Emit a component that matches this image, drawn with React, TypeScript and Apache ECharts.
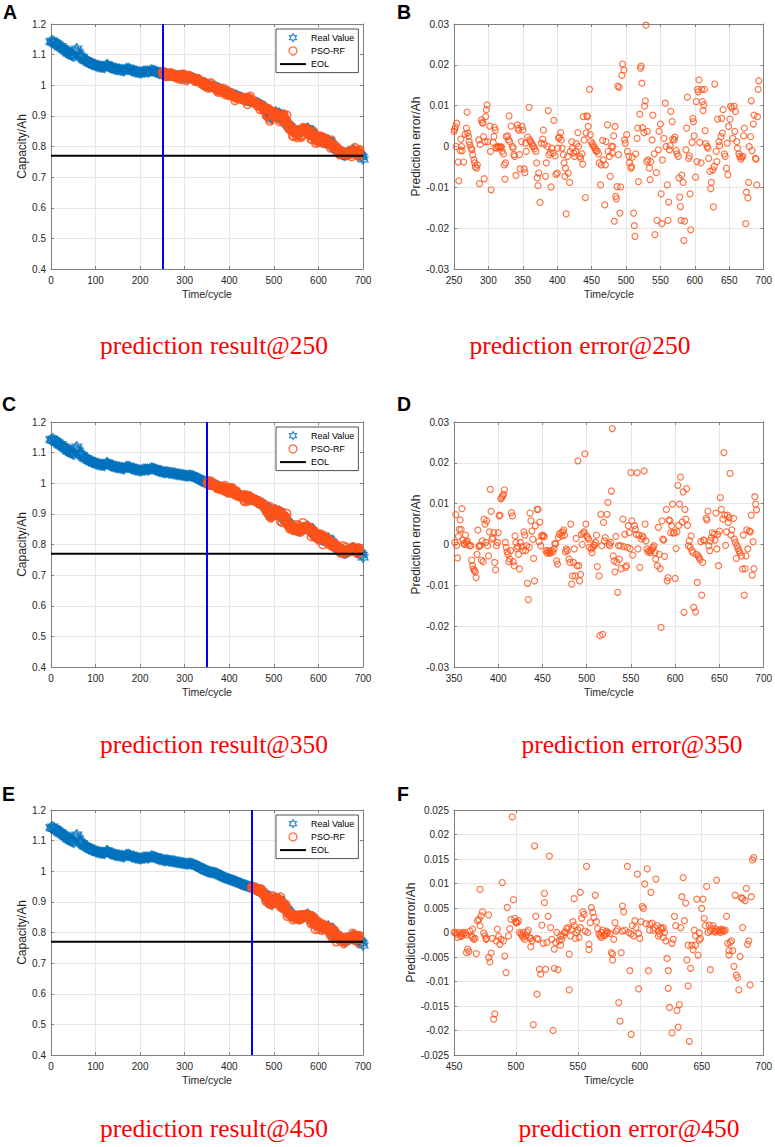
import React, { useEffect, useRef } from "react";
import * as echarts from "echarts";

// ---------------- DATA ----------------
// Real capacity (Ah), one value every 2 cycles from cycle 0 to 700
const realCycleStep = 2;
const realValues = [
  1.143,1.140,1.146,1.138,1.141,1.134,1.137,1.131,1.133,1.127,
  1.124,1.128,1.120,1.122,1.116,1.119,1.112,1.114,1.108,1.105,
  1.103,1.106,1.099,1.101,1.096,1.099,1.094,1.110,1.116,1.120,
  1.110,1.104,1.098,1.094,1.090,1.092,1.086,1.084,1.080,1.082,
  1.078,1.080,1.074,1.076,1.071,1.072,1.068,1.070,1.066,1.069,
  1.064,1.066,1.061,1.065,1.062,1.059,1.063,1.058,1.061,1.060,
  1.057,1.062,1.065,1.068,1.064,1.062,1.058,1.060,1.056,1.057,
  1.054,1.057,1.052,1.055,1.051,1.054,1.050,1.053,1.049,1.052,
  1.048,1.051,1.047,1.050,1.053,1.055,1.052,1.055,1.051,1.053,
  1.049,1.046,1.050,1.045,1.048,1.043,1.046,1.042,1.045,1.041,
  1.043,1.040,1.044,1.042,1.046,1.043,1.047,1.044,1.046,1.043,
  1.045,1.048,1.046,1.050,1.047,1.049,1.045,1.047,1.042,1.044,
  1.040,1.042,1.038,1.041,1.037,1.039,1.035,1.038,1.034,1.037,
  1.035,1.037,1.033,1.036,1.034,1.032,1.035,1.031,1.034,1.030,
  1.032,1.029,1.031,1.028,1.030,1.027,1.029,1.026,1.028,1.025,
  1.027,1.024,1.026,1.023,1.025,1.027,1.024,1.026,1.023,1.025,
  1.022,1.020,1.021,1.017,1.018,1.014,1.015,1.011,1.012,1.008,
  1.009,1.005,1.006,1.002,1.003,0.999,1.001,0.997,0.999,0.996,
  0.998,0.995,0.997,0.994,0.996,0.993,0.994,0.990,0.991,0.987,
  0.986,0.983,0.984,0.980,0.981,0.978,0.979,0.976,0.977,0.974,
  0.975,0.972,0.973,0.970,0.971,0.968,0.969,0.966,0.967,0.964,
  0.963,0.961,0.962,0.958,0.959,0.956,0.957,0.954,0.955,0.952,
  0.953,0.950,0.951,0.948,0.950,0.947,0.949,0.946,0.947,0.944,
  0.945,0.941,0.942,0.938,0.939,0.935,0.934,0.930,0.929,0.926,
  0.925,0.921,0.918,0.913,0.909,0.904,0.899,0.894,0.891,0.896,
  0.904,0.910,0.913,0.911,0.908,0.906,0.909,0.903,0.898,0.894,
  0.890,0.886,0.883,0.879,0.876,0.873,0.870,0.866,0.863,0.861,
  0.859,0.856,0.853,0.851,0.849,0.847,0.848,0.845,0.846,0.844,
  0.846,0.848,0.851,0.853,0.855,0.853,0.856,0.858,0.860,0.857,
  0.854,0.850,0.846,0.843,0.840,0.837,0.834,0.831,0.828,0.826,
  0.823,0.821,0.819,0.817,0.815,0.816,0.813,0.814,0.812,0.815,
  0.819,0.822,0.818,0.813,0.810,0.806,0.803,0.800,0.797,0.794,
  0.792,0.789,0.786,0.783,0.780,0.778,0.776,0.774,0.773,0.771,
  0.772,0.774,0.773,0.776,0.778,0.781,0.783,0.786,0.788,0.790,
  0.787,0.785,0.782,0.780,0.779,0.777,0.774,0.772,0.768,0.765,
  0.758,
];

// Prediction error (Ah) of PSO-RF, [cycle, error], prediction starting at cycle 250
const error250 = [
  [250,0.0037],[251,0.0042],[252,0.0048],[253,0],[254,0.0057],[256,-0.0038],[257,-0.0084],[259,-0.001],
  [260,0.0018],[261,0],[262,-0.001],[264,-0.0038],[266,0.003],[268,0.0045],[269,0.0084],[270,0.0033],
  [271,0.0025],[272,0.0012],[273,0.0004],[275,-0.0004],[276,-0.0008],[277,-0.002],[279,-0.0033],[280,-0.004],[281,-0.005],[283,-0.0053],
  [284,-0.0045],[286,0.0016],[287,-0.0091],[288,0.0005],[290,0.0065],[291,0.0059],
  [292,0.0057],[293,0.0024],[294,-0.0079],[295,0.0012],[296,0.0073],[297,0.009],[298,0.0102],[299,0.0012],
  [302,0.005],[303,-0.0012],[304,-0.0106],[307,0.001],[308,0.0024],[309,0.0047],[310,0.004],
  [311,-0.0002],[312,-0.0004],[314,0],[315,-0.0002],[317,-0.0001],[318,-0.0003],[319,-0.0001],
  [320,-0.0012],[322,-0.0018],[323,-0.0045],[324,-0.008],[325,-0.004],[326,0.0024],[328,0.0026],[329,0.0016],[330,0.0075],
  [331,0.0012],[333,0.005],[335,0],[336,-0.0004],[337,-0.002],[338,-0.0024],[340,-0.0071],
  [342,0.0053],[343,0.0045],[344,0.004],[345,-0.002],[346,-0.0055],[348,0.0012],[349,0.0049],[350,0.004],
  [352,-0.0055],[353,-0.0064],[354,0.0008],[355,-0.0012],[357,0.0023],[359,0.0096],[360,0.0016],
  [361,0.0012],[363,0.0008],[364,0.0002],[366,0],[367,-0.0006],[369,-0.0012],[370,-0.004],
  [371,-0.0077],[372,-0.0096],[373,-0.0065],[375,-0.0137],[377,0.0008],[379,0.0018],[380,0.004],
  [381,0.0006],[383,-0.0073],[384,-0.004],[386,0],[387,0.0088],[388,-0.002],[390,-0.0015],
  [391,-0.0099],[392,-0.0004],[394,-0.0016],[395,0.0064],[397,-0.0023],[398,-0.0068],[400,-0.0065],
  [401,-0.0004],[402,0.002],[403,0.0023],[405,0.0034],[406,0.0016],[407,-0.0004],[409,-0.002],[410,-0.004],
  [411,-0.0073],[412,-0.0053],[413,-0.0165],[415,-0.0024],[416,-0.0065],[418,-0.0088],[419,-0.0012],
  [421,0.0012],[422,-0.0004],[424,-0.0016],[425,-0.0024],[427,-0.0012],[428,0.0007],[430,0.0034],
  [431,0],[433,-0.0024],[434,-0.0029],[436,-0.0018],[437,-0.0043],[438,0.0073],[439,0.0016],
  [441,-0.0125],[442,0.0033],[443,0.0075],[444,0.0073],[445,0.0049],[447,0.014],[448,0.0029],[449,0.0012],
  [451,0.0007],[452,0.0002],[454,-0.0002],[455,-0.0007],[457,-0.0012],[458,-0.001],[460,-0.0018],
  [461,-0.004],[463,-0.0094],[464,-0.0045],[466,0.0015],[467,-0.0033],[469,-0.0143],[470,-0.0045],
  [471,0.0012],[473,0.0053],[474,-0.0012],[476,-0.0024],[477,-0.0073],[479,0],[480,-0.0016],
  [481,0],[482,0.0026],[483,-0.0183],[484,0.0049],[485,-0.0122],[486,-0.0128],[487,-0.0098],[488,0.0148],[489,-0.002],
  [490,0.0145],[491,-0.0163],[492,-0.0099],[494,0.0174],[495,0.0202],[497,0.0187],[498,0.0016],[499,0.0008],
  [501,0.0029],[502,-0.0012],[504,-0.0024],[505,-0.004],[507,-0.0053],[508,-0.0049],[509,-0.0026],
  [511,-0.0163],[512,-0.0194],[513,-0.022],[514,-0.0018],[516,0.002],[517,0.0045],[518,-0.0086],[520,0.0079],
  [521,0.0192],[522,0.0197],[523,0.0155],[524,0.0046],[526,0.0034],[527,0.0099],[528,0.0112],[529,0.0297],[530,-0.0037],
  [531,0.0037],[532,-0.0033],[534,-0.0053],[535,-0.0081],[536,-0.0037],[538,0.0016],[539,0.0077],
  [541,-0.0018],[542,-0.0216],[544,-0.0064],[545,-0.0181],[547,-0.0008],[548,0.0037],[550,0.0055],
  [551,-0.0116],[552,-0.0189],[553,-0.0033],[555,0.002],[557,0.0106],[558,0],[560,-0.0094],[561,-0.0181],
  [562,-0.0136],[563,-0.0008],[564,0.0002],[565,0.0086],[567,0.0061],[568,0.0018],[570,0.0016],
  [571,0.0023],[573,-0.001],[574,-0.0018],[576,-0.0024],[577,-0.0077],[578,-0.0124],[579,-0.0147],
  [580,-0.0181],[581,-0.007],[583,-0.0088],[584,-0.023],[585,-0.0183],[587,-0.0008],[588,0.0045],[589,0.0121],
  [591,-0.0029],[592,-0.0023],[593,-0.0116],[594,-0.0204],[596,0.001],[597,0.0069],[598,0.0061],[599,0.0026],
  [601,-0.0075],[602,0.011],[603,-0.0037],[604,0.014],[605,0.0134],[606,0.0163],[607,0.001],[609,-0.004],[610,0.014],
  [611,0.011],[612,0.0088],[613,0.0102],[614,0.014],[615,0.0039],[616,0.0007],[618,0],[619,-0.0004],
  [620,-0.0029],[622,-0.0061],[623,-0.0103],[624,-0.0088],[626,-0.0057],[627,-0.0148],[628,-0.0049],[629,0.0153],
  [631,-0.0012],[632,-0.0037],[633,0.0067],[635,0.0012],[636,0.0002],[638,0.0024],[639,0.0069],
  [640,0.0033],[641,0.009],[643,-0.0018],[644,-0.0024],[646,-0.0053],[647,0.0008],[648,-0.0069],[649,0.0049],
  [651,0.0067],[652,0.0098],[654,0.0094],[655,0.002],[657,0.0099],[658,0.0037],[659,0.0086],
  [661,0.0012],[662,-0.0004],[664,-0.0018],[665,-0.0024],[667,-0.0031],[668,-0.0026],[670,-0.0024],
  [671,0.0026],[672,0.0045],[674,-0.0189],[675,-0.0112],[677,-0.0126],[678,-0.0088],[679,0],
  [681,0.0024],[682,0.0112],[683,-0.001],[685,0.0055],[686,0.0077],[688,-0.0029],[689,-0.0031],
  [690,-0.0094],[691,0.0073],[692,0.014],[693,0.0161],
];

// prediction starting at cycle 350
const error350 = [
  [351,0.0005],[352,0.0073],[353,-0.0002],[354,-0.0033],[355,0.002],[356,0.0037],[357,0.006],[358,0.0037],[359,0.0088],[360,0.0011],[361,0.0003],[362,0],[363,0.0023],[364,0.0005],[365,0.0009],[366,0],[368,-0.0003],[369,-0.0003],[370,-0.0038],[371,-0.0052],[372,-0.006],[373,-0.0064],[374,-0.0067],[375,-0.0081],[376,-0.0024],
  [377,0.0035],[378,-0.0005],[379,-0.0003],[380,-0.0002],[381,-0.0038],[382,0.0009],[383,-0.0042],[384,0.0062],[385,0.005],[386,0.0005],[387,0.0058],[388,-0.0003],[389,-0.0028],[390,0.0031],[391,0.0135],[392,0.0081],[393,0.0013],[394,0.0017],[395,0.0029],[396,-0.0044],[397,-0.0062],[398,-0.0003],[399,0.0005],[400,0.0029],[401,0.007],
  [402,0.0072],[403,0.0112],[404,0.0115],[405,0.0119],[406,0.0123],[407,0.0134],[408,0.0005],[409,-0.0007],[410,-0.0018],[411,-0.0024],[412,-0.0042],[413,-0.0036],[414,-0.0015],[415,0.0078],[416,0.007],[417,-0.0042],[418,-0.0052],[419,0.0021],[420,0.0005],[421,-0.001],[422,-0.0005],[423,-0.0024],[424,-0.006],[425,0.0005],
  [427,-0.0005],[428,-0.0015],[429,0.0031],[430,0.0023],[431,-0.0015],[432,-0.0003],[433,-0.0095],[434,-0.0135],[435,-0.0007],[436,0.0077],[437,0.0058],[438,0.0033],[439,0.0013],[440,-0.0034],[441,-0.0089],[442,0.0046],[444,0.0086],[445,0.0086],[446,0.0007],[447,0.0055],[448,-0.0003],[449,0.0021],[450,0.0023],
  [451,0.0021],[452,0.0019],[454,-0.0015],[455,-0.0021],[456,-0.0015],[457,-0.0018],[458,-0.0021],[459,-0.002],[460,-0.0015],[462,-0.0018],[463,-0.0011],[464,0.0003],[465,0.0001],[466,-0.004],[467,-0.0048],[468,0.0017],[469,0.0025],[471,0.0029],[472,0.0021],[473,0.0031],[474,0.0036],[475,0.0023],
  [476,-0.0018],[477,-0.0011],[478,-0.0015],[480,-0.0036],[481,-0.0044],[482,0.005],[483,-0.0097],[484,-0.0077],[485,-0.0044],[486,-0.0011],[487,-0.0077],[488,0.0015],[489,-0.0052],[490,0.0205],[491,-0.0052],[492,-0.0089],[493,-0.0073],[494,0.0025],[495,0],[496,0.0028],[497,0.0031],[498,0.0222],[499,0.005],[500,0.0021],
  [501,0.0017],[502,0.0013],[503,-0.0007],[505,-0.0011],[506,-0.002],[507,-0.0007],[508,0],[509,-0.0002],[510,0.0005],[511,0.0023],[512,-0.0054],[514,-0.0077],[515,-0.0223],[516,0.0074],[517,-0.0003],[518,-0.022],[519,0.0054],[520,0.0009],[521,0.0017],[523,0.0074],[524,0.0103],[525,0.0001],[526,-0.0003],
  [527,0.0005],[528,0.0131],[529,0.0284],[530,-0.0028],[531,-0.004],[532,-0.0067],[533,0.002],[534,-0.0044],[535,-0.0117],[536,-0.0003],[537,-0.0036],[538,-0.0003],[539,-0.0059],[541,0.0062],[542,-0.0005],[543,0.0025],[544,-0.0056],[545,-0.0052],[546,-0.0007],[547,0.0046],[548,0.0029],[549,-0.001],[550,0.0176],
  [551,0.0058],[552,-0.0026],[554,0.0046],[555,0.0037],[556,0.0025],[557,0.0176],[558,-0.0011],[559,0.0023],[560,-0.0056],[562,0.0013],[563,0.0021],[564,0.0017],[565,0.018],[566,0.005],[567,0.0009],[568,-0.0011],[569,-0.0018],[571,-0.0015],[572,-0.002],[573,-0.0015],[574,-0.0011],[575,-0.0007],
  [576,-0.0003],[577,-0.002],[578,-0.0036],[580,-0.0052],[581,0.0042],[582,-0.0024],[583,-0.0059],[584,-0.0203],[585,0.0058],[586,0.0013],[587,0.0011],[588,-0.0029],[590,0.0086],[591,-0.0089],[592,-0.0081],[593,0.006],[594,0.0058],[595,0.0029],[596,0.0046],[597,0.0099],[598,0.0028],[599,0.0029],[600,-0.0083],
  [601,-0.001],[602,0.0031],[603,0.0145],[604,0.0047],[605,0.0099],[606,0.0165],[608,0.0055],[609,0.0129],[610,-0.0166],[611,0.0086],[612,0.0062],[613,0.0137],[614,0.0047],[615,-0.0003],[616,0.0009],[617,-0.0007],[618,0.0021],[619,-0.0015],[620,-0.002],[621,-0.0154],[623,-0.0165],[624,-0.0024],[625,-0.0093],[626,-0.0028],
  [627,-0.0032],[628,-0.0037],[629,0.0007],[630,-0.0124],[631,-0.0044],[632,0.0011],[633,0.001],[635,0.0064],[636,0.006],[637,0.0082],[638,-0.0003],[639,-0.0015],[640,0.0009],[641,0.0017],[642,0.0029],[644,0.0025],[645,0.0011],[646,0.0077],[647,-0.0011],[648,0.0025],[649,-0.0052],[650,0.0033],
  [651,0.0115],[652,0.0086],[654,0.0062],[655,0.0225],[656,0.0072],[657,-0.0002],[658,0.0031],[659,0.0072],[660,0.0054],[661,0.0066],[662,0.0174],[663,0.0023],[664,0.0036],[666,0.0064],[667,0.0013],[668,0.0005],[669,-0.0034],[670,-0.0003],[671,-0.001],[672,-0.0015],[673,-0.002],[675,-0.0028],
  [676,-0.006],[677,0.0023],[678,-0.0124],[679,-0.0059],[680,-0.0028],[681,0.0036],[682,-0.0011],[684,0.0033],[685,0.0031],[686,0.0072],[687,-0.0075],[688,0.0007],[689,-0.0059],[690,0.0117],[691,0.0099],[692,0.0085],
];

// prediction starting at cycle 450
const error450 = [
  [450,0],[451,0],[452,-0.0003],[453,-0.001],[454,0],[455,-0.0007],[456,-0.0003],[456,-0.0008],[457,0],[458,-0.0003],[459,0],[460,-0.0005],[460,-0.0041],[461,-0.0034],[462,-0.0039],[463,0.0003],[464,-0.0007],[465,0.0007],[465,-0.001],[466,-0.0014],[467,-0.0012],[468,-0.0043],[469,0.0024],[470,0.0027],[471,0.0088],[471,0.0014],[472,0.0034],[473,0.0042],[474,-0.0001],[475,-0.0007],
  [476,-0.0012],[476,-0.0014],[478,0.0036],[478,-0.0051],[479,-0.006],[480,-0.0042],[481,-0.0012],[482,-0.0177],[483,-0.0166],[484,-0.0017],[485,0.0007],[486,-0.0008],[487,-0.0024],[488,-0.0014],[489,0.0102],[490,-0.0017],[491,-0.0048],[492,-0.0082],[493,0.0051],[494,-0.0007],[495,0.0008],[496,0.0027],[497,0.0236],[498,0.0067],[499,0.0029],[500,0.002],[500,0.0022],
  [501,0.002],[502,0.0024],[503,0],[504,-0.0003],[505,-0.0007],[506,0],[506,-0.001],[507,-0.0014],[508,-0.0007],[509,0.0001],[510,0.0005],[511,-0.001],[512,-0.0012],[512,-0.0029],[513,-0.0017],[514,-0.0188],[515,0.0177],[516,0.0033],[517,-0.0012],[517,-0.0126],[518,-0.0014],[519,-0.0075],[520,-0.0085],[521,0.0015],[522,-0.0022],[523,0.008],[523,0.0061],[524,-0.0075],
  [525,-0.002],[526,0.0033],[527,0.0156],[528,0.001],[529,-0.0014],[530,-0.02],[531,-0.0034],[531,-0.0073],[532,-0.002],[533,0],[534,-0.0076],[535,-0.0017],[536,-0.0026],[536,-0.0007],[537,-0.0014],[538,-0.0007],[539,0],[540,0.0001],[541,0.0008],[542,0.001],[543,-0.0117],[543,-0.0044],[544,-0.0007],[545,0.0007],[546,0.0022],[547,0.0014],[547,0.0069],[548,-0.0012],[549,0],
  [550,0.0005],[551,-0.001],[552,0.001],[552,0.0082],[553,0.0029],[554,0.0042],[555,0.0037],[556,0.0003],[557,0.0135],[558,0],[559,-0.0024],[559,-0.0035],[560,0.002],[561,0.0051],[562,0.0041],[563,0.0031],[564,0.0076],[565,0.0022],[566,0.0008],[567,-0.0003],[568,-0.0007],[569,-0.001],[569,0],[570,0.0005],[571,-0.0007],[572,-0.0005],[573,0.0003],[573,-0.0002],[574,0],
  [576,-0.0002],[577,-0.0041],[578,-0.0044],[578,-0.0056],[579,-0.0014],[580,0.002],[581,0.0003],[582,0.0007],[583,-0.0143],[584,-0.0181],[585,-0.0041],[586,0.0054],[586,0.0003],[587,0.0042],[588,0.0005],[590,0.0135],[591,0],[592,-0.0078],[593,-0.0208],[593,-0.0003],[594,0.0014],[595,-0.0007],[596,0.0024],[597,0.001],[598,0.0119],[599,-0.0002],[599,-0.0115],
  [600,-0.0012],[601,0.0022],[602,0.0053],[603,0.0049],[604,0.0099],[605,0.0018],[606,0.013],[607,-0.0078],[608,0.0017],[608,0.0005],[609,0.0082],[610,0.0019],[611,0.0005],[612,0.001],[613,0.0109],[614,0.0014],[615,-0.0007],[615,0.0003],[616,-0.0003],[617,0.001],[618,0.0007],[619,-0.001],[619,0.001],[620,0],[621,-0.0017],[622,-0.0053],[623,-0.0114],[623,-0.0078],[624,-0.0153],
  [626,-0.0022],[626,-0.0205],[627,-0.0014],[628,0.0033],[629,0.0014],[630,-0.0159],[631,-0.0193],[632,-0.0147],[633,0.001],[634,0.0073],[635,0.0112],[636,0.0024],[637,0.006],[638,-0.0056],[639,-0.0109],[639,-0.0026],[640,-0.0222],[641,-0.0073],[642,-0.0026],[643,-0.0035],[644,0.0005],[645,-0.0007],[645,-0.0026],[646,0.0068],[647,-0.0046],[648,-0.0015],[648,-0.0001],[649,-0.0012],
  [650,0.0049],[651,0.0068],[652,0.0029],[653,0.0014],[654,0.0094],[655,0],[656,0.0015],[657,-0.0076],[657,0.0003],[658,0.0008],[659,0.0014],[660,0.0003],[661,0.0001],[661,0.0008],[662,0.0107],[663,0.0003],[664,0.0005],[665,0],[666,0.0003],[666,0.0007],[667,0.0005],[668,0.0003],[669,0.0005],[670,0.0033],[671,-0.0022],[672,-0.0046],[672,-0.0037],[673,-0.002],[674,-0.0017],
  [675,-0.0037],[676,-0.0069],[677,0.0076],[678,-0.0087],[679,-0.0092],[680,-0.0117],[681,-0.0049],[682,0.0071],[683,0.001],[683,0.0069],[685,0.0065],[686,0.009],[687,-0.0024],[688,-0.0017],[689,-0.0107],[690,0.0073],[691,0.0148],[692,0.0153],
];

const startCycles = [250, 350, 450];
const errorSets = [error250, error350, error450];
const eolCapacity = 0.77;
const capacityAxis = [0.4, 1.2, 0.1];
const cycleAxisLeft = [0, 700, 100];
const errorAxes = [
  [-0.03, 0.03, 0.01],
  [-0.03, 0.03, 0.01],
  [-0.025, 0.025, 0.005],
];
const resultCaptions = ["prediction result@250", "prediction result@350", "prediction result@450"];
const errorCaptions = ["prediction error@250", "prediction error@350", "prediction error@450"];
const leftLetters = ["A", "C", "E"];
const rightLetters = ["B", "D", "F"];
const legendNames = ["Real Value", "PSO-RF", "EOL"];

// ---------------- STYLE / LAYOUT ----------------
const FONT = '"Liberation Sans", Arial, Helvetica, sans-serif';
const SERIF = '"Liberation Serif", "Times New Roman", serif';
const AXIS_COLOR = "#7f7f7f";
const LABEL_COLOR = "#262626";
const GRID_COLOR = "#e6e6e6";
const BLUE = "#0072BD";
const ORANGE = "#FF5319";
const HEX =
  "path://M0,-10 L2.89,-5 L8.66,-5 L5.77,0 L8.66,5 L2.89,5 L0,10 L-2.89,5 L-8.66,5 L-5.77,0 L-8.66,-5 L-2.89,-5 Z";
const LINE_ICON = "path://M0,0 L26,0 L26,2 L0,2 Z";

const rowTops = [24, 422, 810];
const plotH = 245;
const leftX = 51;
const leftW = 312;
const rightX = 454;
const rightW = 311;
const captionYs = [345, 744, 1128];
const letterYs = [12, 403.5, 793.5];
const errorCaptionXs = [580, 632, 629];

function realAt(c: number) {
  return realValues[Math.round(c / realCycleStep)];
}

function makeAxes(gridIndex: number, isX: boolean, range: number[], name: string, nameGap: number, nameSize: number) {
  const [min, max, interval] = range;
  const common = {
    type: "value",
    gridIndex,
    min,
    max,
    interval,
    axisLine: { show: true, onZero: false, lineStyle: { color: AXIS_COLOR, width: 1 } },
    axisTick: { show: true, inside: true, length: 3, lineStyle: { color: AXIS_COLOR, width: 1 } },
  };
  const main = {
    ...common,
    position: isX ? "bottom" : "left",
    name,
    nameLocation: "middle",
    nameGap,
    nameTextStyle: { fontSize: nameSize, color: LABEL_COLOR, fontFamily: FONT },
    axisLabel: { fontSize: 10, color: LABEL_COLOR, margin: isX ? 6 : 5, fontFamily: FONT },
    splitLine: { show: true, lineStyle: { color: GRID_COLOR, width: 1 } },
  };
  const mirror = {
    ...common,
    position: isX ? "top" : "right",
    axisLabel: { show: false },
    splitLine: { show: false },
  };
  return [main, mirror];
}

function buildOption() {
  const grid: any[] = [];
  const xAxis: any[] = [];
  const yAxis: any[] = [];
  const series: any[] = [];
  const legend: any[] = [];
  const graphic: any[] = [];

  const realPoints = realValues.map((v, i) => [i * realCycleStep, v]);

  for (let r = 0; r < 3; r++) {
    const top = rowTops[r];
    // left panel (capacity)
    const gl = r * 2;
    grid.push({ left: leftX, top, width: leftW, height: plotH, containLabel: false });
    xAxis.push(...makeAxes(gl, true, cycleAxisLeft, "Time/cycle", 19, 10.5));
    yAxis.push(...makeAxes(gl, false, capacityAxis, "Capacity/Ah", 22, 12));
    const predPoints = errorSets[r].map(([c, e]) => [c, realAt(c) + e]);
    series.push({
      type: "scatter",
      name: "Real Value",
      xAxisIndex: gl * 2,
      yAxisIndex: gl * 2,
      data: realPoints,
      symbol: HEX,
      symbolSize: 10,
      itemStyle: { color: "rgba(0,0,0,0)", borderColor: BLUE, borderWidth: 1.2 },
      z: 2,
    });
    series.push({
      type: "scatter",
      name: "PSO-RF",
      xAxisIndex: gl * 2,
      yAxisIndex: gl * 2,
      data: predPoints,
      symbol: "circle",
      symbolSize: 8,
      itemStyle: { color: "rgba(0,0,0,0)", borderColor: ORANGE, borderWidth: 1.6 },
      z: 3,
    });
    series.push({
      type: "line",
      name: "EOL",
      xAxisIndex: gl * 2,
      yAxisIndex: gl * 2,
      data: [[cycleAxisLeft[0], eolCapacity], [cycleAxisLeft[1], eolCapacity]],
      symbol: "none",
      itemStyle: { color: "#000" },
      lineStyle: { color: "#000", width: 2 },
      z: 4,
      markLine: {
        silent: true,
        symbol: ["none", "none"],
        label: { show: false },
        lineStyle: { color: "#0000FF", width: 2, type: "solid" },
        data: [{ xAxis: startCycles[r] }],
      },
    });
    legend.push({
      left: 276,
      top: top + 5,
      orient: "vertical",
      data: [
        { name: legendNames[0], icon: HEX, itemStyle: { borderWidth: 1.2 } },
        { name: legendNames[1], icon: "circle", itemStyle: { borderWidth: 1.4 } },
        { name: legendNames[2], icon: LINE_ICON, itemStyle: { color: "#000", borderWidth: 0 } },
      ],
      itemWidth: 26,
      itemHeight: 8,
      itemGap: 4,
      padding: [4, 4, 4, 4],
      borderColor: "#262626",
      borderWidth: 0.8,
      backgroundColor: "#fff",
      selectedMode: false,
      textStyle: { fontSize: 9, color: "#000", fontFamily: FONT },
    });

    // right panel (error)
    const gr = r * 2 + 1;
    grid.push({ left: rightX, top, width: rightW, height: plotH, containLabel: false });
    xAxis.push(...makeAxes(gr, true, [startCycles[r], 700, 50], "Time/cycle", 19, 10.5));
    yAxis.push(...makeAxes(gr, false, errorAxes[r], "Prediction error/Ah", 30, 12));
    series.push({
      type: "scatter",
      name: "Prediction error " + startCycles[r],
      xAxisIndex: gr * 2,
      yAxisIndex: gr * 2,
      data: errorSets[r],
      symbol: "circle",
      symbolSize: 6,
      itemStyle: { color: "rgba(0,0,0,0)", borderColor: ORANGE, borderWidth: 1.2 },
      z: 3,
    });

    const textStyleBase = {
      textAlign: "left",
      align: "left",
      textVerticalAlign: "middle",
      verticalAlign: "middle",
    };
    // letters
    graphic.push({
      type: "text",
      x: r === 0 ? 3 : 2,
      y: letterYs[r],
      style: { ...textStyleBase, text: leftLetters[r], fill: "#000", fontSize: 19.5, fontWeight: "bold", fontFamily: FONT },
    });
    graphic.push({
      type: "text",
      x: 397,
      y: letterYs[r],
      style: { ...textStyleBase, text: rightLetters[r], fill: "#000", fontSize: 19.5, fontWeight: "bold", fontFamily: FONT },
    });
    // captions
    const captionBase = {
      fill: "#FF0000",
      fontSize: 25.5,
      fontFamily: SERIF,
      textAlign: "center",
      align: "center",
      textVerticalAlign: "middle",
      verticalAlign: "middle",
    };
    graphic.push({ type: "text", x: 214, y: captionYs[r], style: { ...captionBase, text: resultCaptions[r] } });
    graphic.push({ type: "text", x: errorCaptionXs[r], y: captionYs[r], style: { ...captionBase, text: errorCaptions[r] } });
  }

  return {
    animation: false,
    backgroundColor: "#fff",
    textStyle: { fontFamily: FONT },
    grid,
    xAxis,
    yAxis,
    series,
    legend,
    graphic,
  };
}

export default function App() {
  const ref = useRef<HTMLDivElement>(null);
  useEffect(() => {
    if (!ref.current) return;
    const chart = echarts.init(ref.current, null, { renderer: "svg" });
    chart.setOption(buildOption() as any);
    return () => chart.dispose();
  }, []);
  return (
    <div
      ref={ref}
      style={{ position: "absolute", left: 0, top: 0, width: 775, height: 1147, background: "#fff" }}
    />
  );
}
